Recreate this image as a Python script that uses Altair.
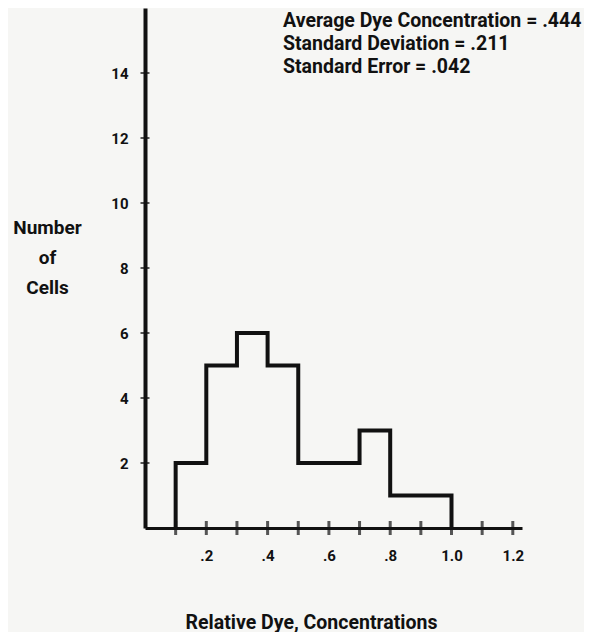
import altair as alt
import pandas as pd

# ---- data ----
bin_edges = [0.1, 0.2, 0.3, 0.4, 0.5, 0.6, 0.7, 0.8, 0.9, 1.0]
counts = [2, 5, 6, 5, 2, 2, 3, 1, 1]
x_tick_values = [0.1, 0.2, 0.3, 0.4, 0.5, 0.6, 0.7, 0.8, 0.9, 1.0, 1.1, 1.2]
x_label_values = [0.2, 0.4, 0.6, 0.8, 1.0, 1.2]
y_tick_values = [2, 4, 6, 8, 10, 12, 14]
stats_lines = [
    "Average Dye Concentration = .444",
    "Standard Deviation = .211",
    "Standard Error = .042",
]
y_title = ["Number", "of", "Cells"]
x_title = "Relative Dye, Concentrations"

FONT = "Roboto"
INK = "#111111"

# step outline of the histogram
step_x = [bin_edges[0]] + bin_edges
step_y = [0] + counts + [0]
step_df = pd.DataFrame({"x": step_x, "y": step_y})
xt_df = pd.DataFrame({"x": x_tick_values, "y": [0] * len(x_tick_values)})
yt_df = pd.DataFrame({"x": [0] * len(y_tick_values), "y": y_tick_values})

xscale = alt.Scale(domain=[0, 1.23], nice=False, zero=False)
yscale = alt.Scale(domain=[0, 16], nice=False)

hist = alt.Chart(step_df).mark_line(
    interpolate="step-after", color=INK, strokeWidth=4, strokeJoin="miter"
).encode(
    x=alt.X("x:Q", scale=xscale, axis=alt.Axis(
        values=x_label_values, ticks=False, grid=False,
        domainWidth=3, domainColor=INK,
        labelExpr="datum.value < 1 ? replace(format(datum.value, '.1f'), '0.', '.') : format(datum.value, '.1f')",
        labelFont=FONT, labelFontSize=15, labelFontWeight="bold", labelColor=INK,
        labelPadding=20,
        title=x_title, titleFont=FONT, titleFontSize=19.5, titleFontWeight="bold",
        titleColor=INK, titleX=166, titleY=94, titleBaseline="middle",
        titleAlign="center",
    )),
    y=alt.Y("y:Q", scale=yscale, axis=alt.Axis(
        values=y_tick_values, ticks=False, grid=False,
        domainWidth=4, domainColor=INK,
        labelFont=FONT, labelFontSize=15, labelFontWeight="bold", labelColor=INK,
        labelPadding=17,
        title=y_title, titleAngle=0, titleFont=FONT, titleFontSize=19,
        titleFontWeight="bold", titleColor=INK, titleX=-98, titleY=210,
        titleAlign="center", titleBaseline="top", titleLineHeight=30,
    )),
)

xticks = alt.Chart(xt_df).mark_tick(
    orient="vertical", size=14, thickness=3, color=INK
).encode(x=alt.X("x:Q", scale=xscale), y=alt.Y("y:Q", scale=yscale))

yticks = alt.Chart(yt_df).mark_tick(
    orient="horizontal", size=9, thickness=2, color=INK
).encode(x=alt.X("x:Q", scale=xscale), y=alt.Y("y:Q", scale=yscale))

stats = alt.Chart(pd.DataFrame({"a": [0]})).mark_text(
    text=stats_lines, align="left", baseline="top", font=FONT,
    fontSize=19.5, fontWeight="bold", color=INK, lineHeight=23,
).encode(x=alt.value(138), y=alt.value(4))

chart = alt.layer(hist, xticks, yticks, stats).properties(
    width=377, height=520,
    autosize=alt.AutoSizeParams(type="none"),
    padding={"left": 137, "top": 0, "right": 62, "bottom": 104},
    background="#f6f6f4",
).configure_view(stroke=None)

chart.save("out.html", embed_options={"renderer": "svg", "actions": False})
